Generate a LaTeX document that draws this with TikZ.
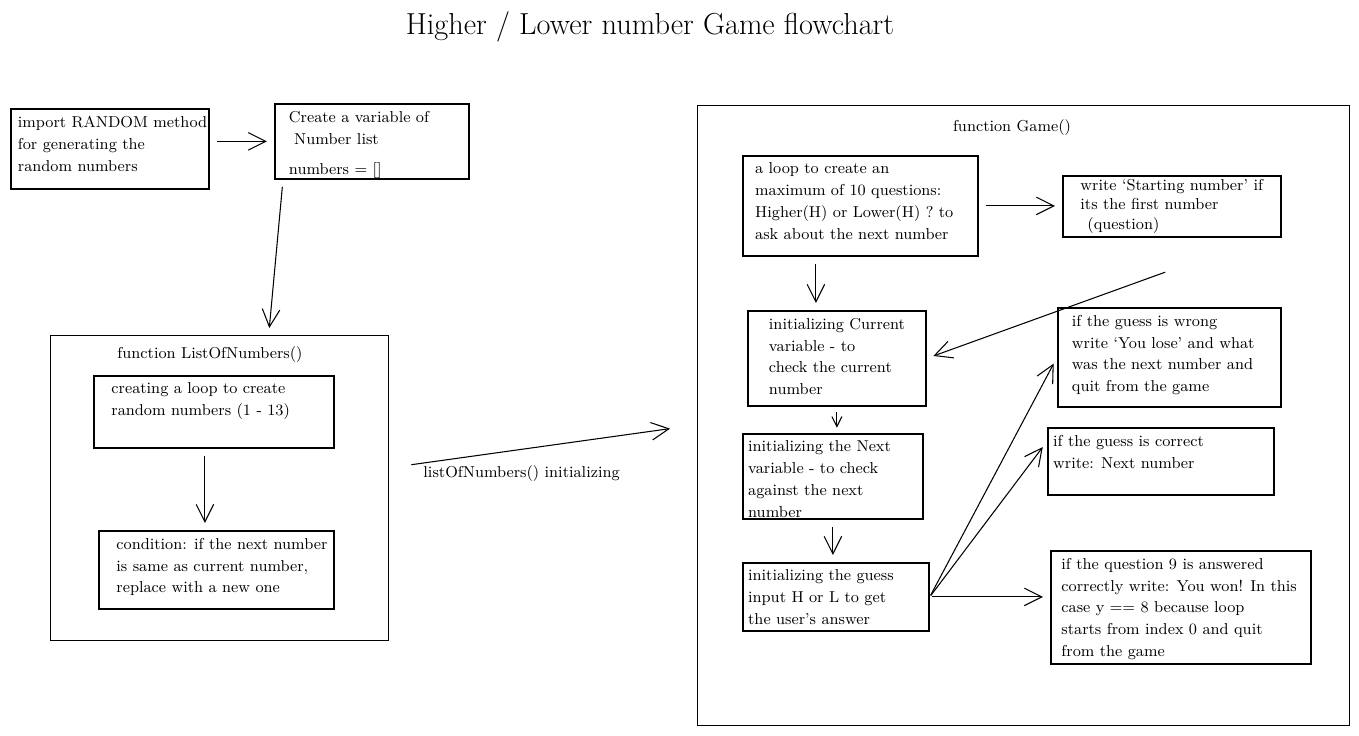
\documentclass[tikz,border=0pt]{standalone}
\usetikzlibrary{arrows.meta}
% text block inside a box: [left pad]{width px}{height px}{text}
\newcommand{\boxtext}[4][4pt]{\parbox[c][\dimexpr0.02cm*#3\relax][t]{\dimexpr0.02cm*#2\relax}{\raggedright\leftskip=#1\vspace*{4pt}#4}}
\begin{document}
\begin{tikzpicture}[x=0.02cm, y=-0.02cm,
        every node/.style={font=\fontsize{9}{12.5}\selectfont},
        box/.style={draw, line width=1pt, anchor=north west, inner sep=0pt},
        frame/.style={draw, line width=0.8pt, anchor=north west, inner sep=0pt},
        arr/.style={-{Straight Barb[length=3.5mm, width=3.5mm]}, line width=0.6pt, shorten <=4pt, shorten >=4pt}]
    \useasboundingbox (0,0) rectangle (1359,735);
    \node[font=\LARGE] (title) at (650,27) {Higher / Lower number Game flowchart};
    % left part
    \node[box] (imp) at (10,108) {\boxtext{198}{80}{import RANDOM method\\for generating the\\random numbers}};
    \node[box] (numlist) at (274,103) {\boxtext[8pt]{194}{75}{Create a variable of\\\hspace*{3pt}Number list\\[5pt]numbers = []}};
    \node[frame, minimum width=6.76cm, minimum height=6.1cm] (lon) at (50,335) {};
    \node (lontitle) at (210,355) {function ListOfNumbers()};
    \node[box] (loop) at (93,375) {\boxtext[10pt]{240}{72}{creating a loop to create\\random numbers (1 - 13)}};
    \node[box] (cond) at (98,530) {\boxtext[10pt]{235}{78}{condition: if the next number\\is same as current number,\\replace with a new one}};
    \draw[arr] (numlist.west -| imp.east) -- (numlist.west);
    \draw[arr] ([xshift=0.18cm]numlist.south west) -- ([xshift=0.98cm]lon.north);
    \draw[arr] ([xshift=-0.18cm]loop.south) -- ([xshift=-0.18cm]loop.south |- cond.north);
    % right part
    \node[frame, minimum width=13.04cm, minimum height=12.4cm] (game) at (697,105) {};
    \node (gametitle) at (1012,128) {function Game()};
    \node[box] (qloop) at (742,155) {\boxtext[7pt]{235}{100}{a loop to create an\\maximum of 10 questions:\\Higher(H) or Lower(H) ? to\\ask about the next number}};
    \node[box] (start) at (1062,175) {\boxtext[10pt]{218}{61}{\vspace*{-2pt}write `Starting number' if\\[-1.5pt]its the first number\\[-1.5pt]\hspace*{4pt}(question)}};
    \node[box] (current) at (747,310) {\boxtext[12pt]{178}{95}{initializing Current\\variable - to\\check the current\\number}};
    \node[box] (next) at (742,433) {\boxtext[3pt]{180}{85}{initializing the Next\\variable - to check\\against the next\\number}};
    \node[box] (guess) at (742,562) {\boxtext[3pt]{186}{68}{initializing the guess\\input H or L to get\\the user's answer}};
    \node[box] (lose) at (1057,307) {\boxtext[8pt]{223}{99}{if the guess is wrong\\write `You lose' and what\\was the next number and\\quit from the game}};
    \node[box] (correct) at (1047,427) {\boxtext[3pt]{226}{67}{if the guess is correct\\write: Next number}};
    \node[box] (won) at (1050,550) {\boxtext[6pt]{260}{113}{if the question 9 is answered\\correctly write: You won! In this\\case y == 8 because loop\\starts from index 0 and quit\\from the game}};
    \draw[arr] ([yshift=0.45cm, xshift=0.3cm]lon.east) -- node[pos=0.43, below=0.2cm] (lonlabel) {listOfNumbers() initializing} ([yshift=-0.24cm, xshift=-0.4cm]game.west);
    \draw[arr] (qloop.east) -- (qloop.east -| start.west);
    \draw[arr] ([xshift=-0.89cm]qloop.south) -- ([xshift=-0.89cm]qloop.south |- current.north);
    \draw[arr] ([yshift=-0.64cm]start.south) -- (current.east);
    \draw[-{Straight Barb[length=2mm, width=2mm]}, line width=0.6pt, shorten <=3pt, shorten >=3pt] (current.south) -- (current.south |- next.north);
    \draw[arr] (next.south) -- (next.south |- guess.north);
    \draw[arr, shorten <=1pt] (guess.east) -- (lose.west);
    \draw[arr, shorten <=1pt] (guess.east) -- ([yshift=0.4cm]correct.west);
    \draw[arr, shorten <=1pt] (guess.east) -- (guess.east -| won.west);
\end{tikzpicture}
\end{document}
